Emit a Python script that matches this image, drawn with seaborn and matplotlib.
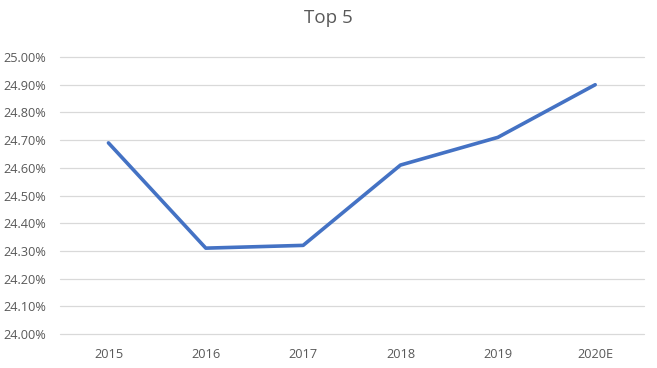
import matplotlib
matplotlib.use("Agg")
import matplotlib.pyplot as plt
import seaborn as sns
import pandas as pd
from matplotlib.ticker import FuncFormatter, MultipleLocator

# dati
years = ["2015", "2016", "2017", "2018", "2019", "2020E"]
share = [24.69, 24.31, 24.32, 24.61, 24.71, 24.90]

df = pd.DataFrame({"anno": years, "quota": share})

sns.set_style("white")
plt.rcParams['font.family'] = ['Open Sans', 'DejaVu Sans']

fig = plt.figure(figsize=(6.57, 3.68), dpi=100)
ax = fig.add_axes([0.091, 0.0924, 0.889, 0.7526])

sns.lineplot(data=df, x="anno", y="quota", ax=ax, color="#4472C4",
             linewidth=2.6, sort=False)

ax.set_ylim(24.0, 25.0)
ax.set_xlim(-0.5, len(years) - 0.5)
ax.yaxis.set_major_locator(MultipleLocator(0.1))
ax.yaxis.set_major_formatter(FuncFormatter(lambda v, p: f"{v:.2f}%"))
ax.grid(axis="y", color="#D9D9D9", linewidth=0.9)
for gl in ax.get_ygridlines():
    gl.set_clip_on(False)
ax.set_axisbelow(True)
for s in ax.spines.values():
    s.set_visible(False)
ax.tick_params(axis="both", length=0, labelsize=9.2, labelcolor="#595959")
ax.tick_params(axis="y", pad=10)
ax.tick_params(axis="x", pad=10)
ax.set_xlabel("")
ax.set_ylabel("")

fig.suptitle("Top 5", x=0.5, y=0.975, fontsize=13.5, color="#595959")

fig.savefig("out.png", dpi=100)
